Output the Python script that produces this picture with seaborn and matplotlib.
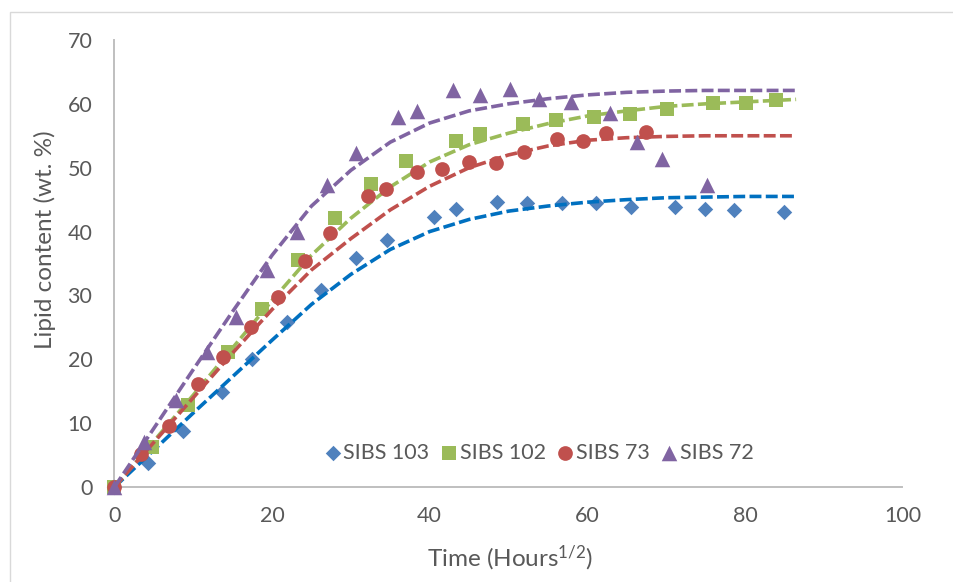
import matplotlib
matplotlib.use("Agg")
import matplotlib.pyplot as plt
from matplotlib.patches import Rectangle
import seaborn as sns

# ---- measured lipid content (wt. %) versus square root of time (hours^1/2) ----
sibs103_t = [0, 4.3, 8.7, 13.6, 17.4, 21.9, 26.2, 30.6, 34.6, 40.6, 43.4, 48.5,
             52.4, 56.8, 61.1, 65.5, 71.1, 75.0, 78.6, 85.0]
sibs103_lipid = [0, 3.8, 8.8, 14.9, 20.0, 25.8, 30.8, 35.8, 38.7, 42.3, 43.5, 44.6,
                 44.4, 44.5, 44.4, 43.9, 43.9, 43.5, 43.3, 43.0]

sibs102_t = [0, 4.7, 9.3, 14.4, 18.7, 23.3, 28.0, 32.6, 37.0, 43.4, 46.4, 51.9,
             56.0, 60.8, 65.4, 70.1, 76.0, 80.2, 84.0]
sibs102_lipid = [0, 6.2, 12.8, 21.1, 27.8, 35.5, 42.2, 47.4, 51.1, 54.2, 55.3, 56.8,
                 57.4, 58.0, 58.4, 59.2, 60.1, 60.2, 60.6]

sibs73_t = [0, 3.4, 6.9, 10.6, 13.8, 17.3, 20.8, 24.2, 27.4, 32.2, 34.5, 38.4,
            41.5, 45.0, 48.4, 52.0, 56.2, 59.4, 62.4, 67.4]
sibs73_lipid = [0, 5.2, 9.6, 16.2, 20.4, 25.1, 29.7, 35.4, 39.7, 45.5, 46.7, 49.4,
                49.8, 50.9, 50.7, 52.5, 54.5, 54.2, 55.4, 55.6]

sibs72_t = [0, 3.8, 7.8, 11.8, 15.4, 19.3, 23.1, 27.0, 30.6, 36.0, 38.4, 42.9,
            46.4, 50.2, 53.9, 57.9, 62.9, 66.3, 69.5, 75.2]
sibs72_lipid = [0, 7.1, 13.7, 21.2, 26.7, 34.0, 40.0, 47.3, 52.3, 58.0, 58.9, 62.1,
                61.4, 62.3, 60.7, 60.3, 58.5, 54.1, 51.3, 47.3]

# ---- fitted uptake curves (dashed) ----
fit_t = [0, 5, 10, 15, 20, 25, 30, 35, 40, 45, 50, 55, 60, 65, 70, 75, 80, 86.5]
sibs103_fit = [0, 5.8, 11.6, 17.3, 23.0, 28.6, 33.3, 37.2, 40.0, 41.9, 43.2, 44.0,
               44.6, 45.0, 45.3, 45.4, 45.5, 45.5]
sibs102_fit = [0, 7.2, 14.4, 21.8, 29.2, 36.3, 42.1, 47.0, 50.9, 53.6, 55.4, 56.9,
               58.1, 58.9, 59.6, 60.0, 60.3, 60.7]
sibs73_fit = [0, 7.0, 14.0, 21.0, 27.8, 34.0, 38.9, 43.4, 47.1, 50.0, 52.0, 53.4,
              54.3, 54.7, 54.9, 55.0, 55.0, 55.0]
sibs72_fit = [0, 9.2, 18.4, 27.5, 36.3, 44.0, 49.6, 54.0, 57.0, 58.9, 60.0, 60.8,
              61.4, 61.8, 62.0, 62.1, 62.1, 62.1]

series_names = ["SIBS 103", "SIBS 102", "SIBS 73", "SIBS 72"]
x_ticks = [0, 20, 40, 60, 80, 100]
y_ticks = [0, 10, 20, 30, 40, 50, 60, 70]

# ---- styling ----
sns.set_style("white")
plt.rcParams["font.family"] = ["Lato", "DejaVu Sans"]
plt.rcParams["mathtext.fontset"] = "custom"
plt.rcParams["mathtext.rm"] = "Lato"
plt.rcParams["mathtext.it"] = "Lato:italic"
plt.rcParams["mathtext.bf"] = "Lato:bold"

text_color = "#595959"
axis_color = "#BFBFBF"
fs = 15.5
title_fs = 17.5

marker_colors = ["#4F81BD", "#9BBB59", "#C0504D", "#8064A2"]
line_colors = ["#0070C0", "#9BBB59", "#C0504D", "#8064A2"]
marker_shapes = ["D", "s", "o", "^"]
marker_areas = [62, 100, 112, 125]

fig, ax = plt.subplots(figsize=(9.54, 5.82), dpi=100)
fig.subplots_adjust(left=0.12, right=0.946, bottom=0.1632, top=0.9313)

# light chart-area border
fig.patches.append(Rectangle((10.5 / 954, -0.1), 1.2, 1.1 - 11.5 / 582,
                             transform=fig.transFigure, fill=False,
                             edgecolor="#D9D9D9", linewidth=1.0, zorder=0))

measured = [(sibs103_t, sibs103_lipid), (sibs102_t, sibs102_lipid),
            (sibs73_t, sibs73_lipid), (sibs72_t, sibs72_lipid)]
fits = [sibs103_fit, sibs102_fit, sibs73_fit, sibs72_fit]

for i, name in enumerate(series_names):
    t, v = measured[i]
    sns.scatterplot(x=t, y=v, marker=marker_shapes[i], s=marker_areas[i],
                    color=marker_colors[i], linewidth=0, label=name, ax=ax,
                    clip_on=False, zorder=3 + i)
    sns.lineplot(x=fit_t, y=fits[i], color=line_colors[i], linewidth=2.6,
                 linestyle=(0, (3.3, 1.2)), dash_capstyle="butt",
                 label="_nolegend_", ax=ax, sort=False, estimator=None,
                 zorder=3 + i)

ax.set_xlim(0, 100)
ax.set_ylim(0, 70)
ax.set_xticks(x_ticks)
ax.set_yticks(y_ticks)
ax.set_xticklabels([str(v) for v in x_ticks])
ax.set_yticklabels([str(v) for v in y_ticks])
ax.tick_params(axis="both", length=0, labelsize=fs, labelcolor=text_color)
ax.tick_params(axis="x", pad=14)
ax.tick_params(axis="y", pad=16)

for side in ["top", "right"]:
    ax.spines[side].set_visible(False)
for side in ["left", "bottom"]:
    ax.spines[side].set_color(axis_color)
    ax.spines[side].set_linewidth(1.4)

ax.set_xlabel(r"Time (Hours$^{\mathrm{1/2}}$)", fontsize=title_fs, color=text_color)
ax.set_ylabel("Lipid content (wt. %)", fontsize=title_fs, color=text_color)
ax.xaxis.set_label_coords(0.502, -0.126)
ax.yaxis.set_label_coords(-0.0745, 0.553)

handles, labels = ax.get_legend_handles_labels()
keep = [(h, l) for h, l in zip(handles, labels) if l in series_names]
ax.legend([h for h, _ in keep], [l for _, l in keep], ncol=4, loc="center",
          bbox_to_anchor=(0.539, 0.076), frameon=False, fontsize=fs,
          labelcolor=text_color, handlelength=0.7, handletextpad=0.15,
          columnspacing=0.55, borderpad=0, scatterpoints=1)

fig.savefig("out.png", dpi=100)
